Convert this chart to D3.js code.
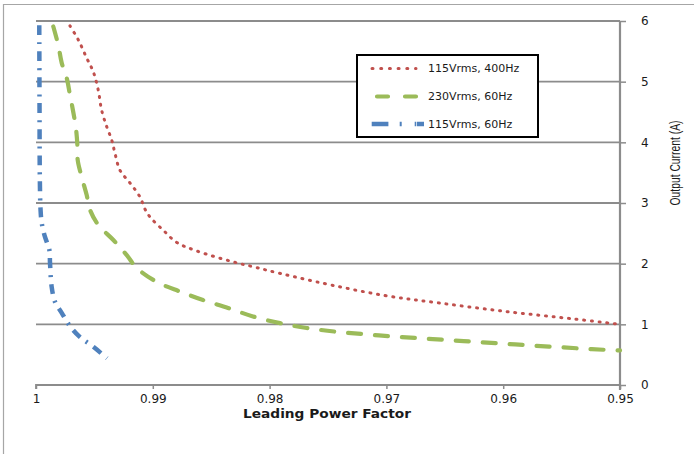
<!DOCTYPE html>
<html><head><meta charset="utf-8">
<script src="https://cdn.jsdelivr.net/npm/d3@7"></script>
<style>body{margin:0;background:#fff}svg{display:block}</style>
</head><body>
<svg id="c" width="694" height="454"></svg>
<script>
const xTicks = [1, 0.99, 0.98, 0.97, 0.96, 0.95];
const yTicks = [0, 1, 2, 3, 4, 5, 6];
const seriesNames = ["115Vrms, 400Hz", "230Vrms, 60Hz", "115Vrms, 60Hz"];
const pf400 = [0.99709,0.99638,0.99566,0.99509,0.99467,0.99438,0.99395,0.99352,0.99324,0.99281,0.99195,0.99110,0.99067,0.99024,0.98910,0.98795,0.98624,0.98313,0.98142,0.97997,0.97597,0.97029,0.96541,0.95970,0.95402,0.95];
const cur400 = [5.92,5.69,5.39,5.16,4.86,4.53,4.26,4.04,3.82,3.54,3.33,3.10,2.90,2.77,2.55,2.35,2.21,2.03,1.95,1.88,1.70,1.48,1.35,1.21,1.09,1.00];
const pf230 = [0.99852,0.99809,0.99780,0.99737,0.99709,0.99681,0.99658,0.99646,0.99643,0.99609,0.99566,0.99538,0.99467,0.99338,0.99223,0.99138,0.98967,0.98767,0.98570,0.98356,0.98142,0.97911,0.97682,0.97440,0.97200,0.96955,0.96712,0.96473,0.96227,0.95985,0.95745,0.95488,0.95242,0.95];
const cur230 = [5.91,5.60,5.31,5.06,4.78,4.50,4.23,3.96,3.71,3.43,3.13,2.89,2.64,2.39,2.14,1.93,1.70,1.54,1.40,1.27,1.13,1.02,0.94,0.88,0.84,0.80,0.77,0.74,0.71,0.68,0.65,0.62,0.59,0.57];
const pf115 = [0.99972,0.99970,0.99967,0.99961,0.99951,0.99923,0.99886,0.99880,0.99866,0.99837,0.99780,0.99709,0.99623,0.99509,0.99392];
const cur115 = [5.93,4.70,3.38,2.89,2.67,2.44,2.23,2.01,1.62,1.37,1.19,0.97,0.79,0.63,0.44];

const svg = d3.select("#c");
const W = 694, H = 454;
svg.append("rect").attr("width", W).attr("height", H).attr("fill", "#fff");
svg.append("path").attr("d", `M3.5,${H} V4.5 H${W}`).attr("fill", "none").attr("stroke", "#a6a6a6").attr("stroke-width", 1.2);

const x = d3.scaleLinear().domain([1, 0.95]).range([36, 620]);
const y = d3.scaleLinear().domain([0, 6]).range([385, 21]);
const gridColor = "#8c8c8c";
const fmt = d => String(+d.toFixed(2));

// gridlines
svg.append("g").selectAll("line").data(yTicks.filter(d => d > 0)).join("line")
  .attr("x1", x(1)).attr("x2", x(0.95)).attr("y1", d => y(d)).attr("y2", d => y(d))
  .attr("stroke", gridColor).attr("stroke-width", 1.8);

// x axis
const gx = svg.append("g").attr("transform", `translate(0,${y(0)})`)
  .call(d3.axisBottom(x).tickValues(xTicks).tickSize(4).tickPadding(5).tickFormat(fmt));
gx.select(".domain").attr("stroke", gridColor).attr("stroke-width", 1.8).attr("d", `M${x(1)},4V0H${x(0.95)}`);
gx.selectAll(".tick line").attr("stroke", gridColor).attr("stroke-width", 1.5);
gx.selectAll("text").attr("font-family", "DejaVu Sans, Verdana, sans-serif").attr("font-size", 12).attr("fill", "#1a1a1a");

// y axis (right)
const gy = svg.append("g").attr("transform", `translate(${x(0.95)},0)`)
  .call(d3.axisRight(y).tickValues(yTicks).tickSize(6).tickPadding(15).tickFormat(fmt));
gy.select(".domain").attr("stroke", gridColor).attr("stroke-width", 2.2).attr("d", `M0,${y(6)}V${y(0) + 5}`);
gy.selectAll(".tick line").attr("stroke", gridColor).attr("stroke-width", 1.5);
gy.selectAll("text").attr("font-family", "DejaVu Sans, Verdana, sans-serif").attr("font-size", 12).attr("fill", "#1a1a1a");

// titles
svg.append("text").attr("x", 327).attr("y", 418).attr("text-anchor", "middle")
  .attr("font-family", "DejaVu Sans, Verdana, sans-serif").attr("font-weight", "bold").attr("font-size", 13)
  .attr("textLength", 168).attr("lengthAdjust", "spacingAndGlyphs")
  .attr("fill", "#1a1a1a").text("Leading Power Factor");
svg.append("text").attr("transform", "translate(680,163) rotate(-90)").attr("text-anchor", "middle")
  .attr("font-family", "Liberation Sans Narrow, Liberation Sans, Arial, sans-serif").attr("font-size", 14)
  .attr("textLength", 85).attr("lengthAdjust", "spacingAndGlyphs")
  .attr("fill", "#1a1a1a").text("Output Current (A)");

// series
const styles = [
  {color: "#C0504D", width: 3, dash: "1,6.7", cap: "round", legDash: "1,7.7"},
  {color: "#9BBB59", width: 4.2, dash: "13,14", cap: "round", legDash: "11,17"},
  {color: "#4F81BD", width: 4.5, dash: "10,7,2,7", cap: "butt", legDash: "16.7,11.3,2,13"}
];
const series = [
  {pf: pf400, cur: cur400},
  {pf: pf230, cur: cur230},
  {pf: pf115, cur: cur115}
];
const line = d3.line().x(d => x(d[0])).y(d => y(d[1])).curve(d3.curveCatmullRom.alpha(0.5));
series.forEach((s, i) => {
  const pts = s.pf.map((p, j) => [p, s.cur[j]]);
  svg.append("path").datum(pts).attr("d", line).attr("fill", "none")
    .attr("stroke", styles[i].color).attr("stroke-width", styles[i].width)
    .attr("stroke-dasharray", styles[i].dash).attr("stroke-linecap", styles[i].cap);
});

// legend
const lg = svg.append("g");
lg.append("rect").attr("x", 357).attr("y", 55).attr("width", 181).attr("height", 82)
  .attr("fill", "#fff").attr("stroke", "#000").attr("stroke-width", 2);
const legY = [68.5, 96.5, 124];
seriesNames.forEach((n, i) => {
  const st = styles[i];
  const x0 = i === 0 ? 372 : (i === 1 ? 377 : 371.7);
  lg.append("line").attr("x1", x0).attr("x2", 416).attr("y1", legY[i]).attr("y2", legY[i])
    .attr("stroke", st.color).attr("stroke-width", st.width)
    .attr("stroke-dasharray", st.legDash).attr("stroke-linecap", st.cap);
  if (i === 2) {
    lg.append("line").attr("x1", 416.7).attr("x2", 424).attr("y1", legY[i]).attr("y2", legY[i])
      .attr("stroke", st.color).attr("stroke-width", st.width);
  }
  lg.append("text").attr("x", 428).attr("y", legY[i]).attr("dy", "0.35em")
    .attr("font-family", "DejaVu Sans, Verdana, sans-serif").attr("font-size", 11)
    .attr("fill", "#1a1a1a").text(n);
});
</script>
</body></html>
